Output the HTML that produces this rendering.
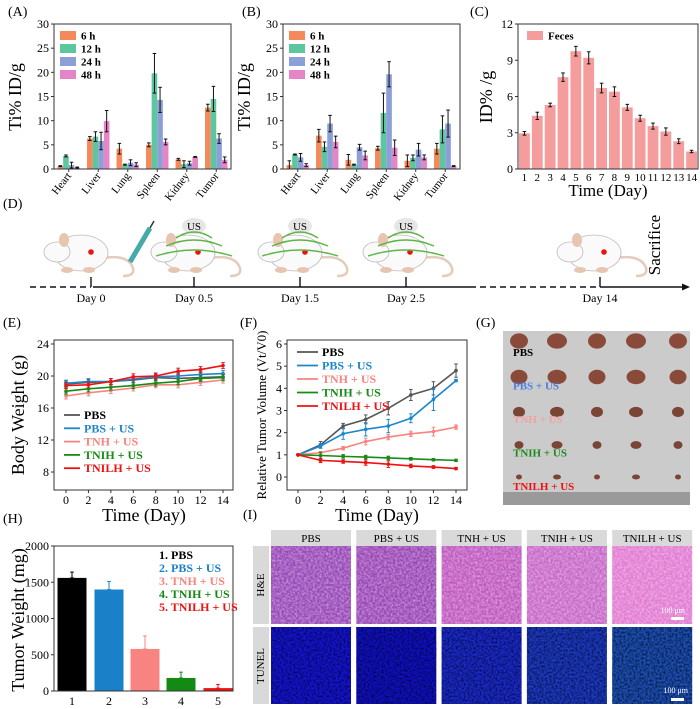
<!DOCTYPE html>
<html><head><meta charset="utf-8"><style>
body{margin:0;background:#fff}
svg{display:block;font-family:"Liberation Serif",serif}
</style></head><body>
<svg id="fig" width="700" height="709" viewBox="0 0 700 709" xmlns="http://www.w3.org/2000/svg">
<defs>
<filter id="he" x="0" y="0" width="1" height="1"><feTurbulence type="fractalNoise" baseFrequency="0.45" numOctaves="2" seed="3"/><feColorMatrix type="matrix" values="0 0 0 0 1  0 0 0 0 1  0 0 0 0 1  0 0 0 -1.6 1.1"/><feComposite in2="SourceGraphic" operator="in"/></filter>
<filter id="tn" x="0" y="0" width="1" height="1"><feTurbulence type="fractalNoise" baseFrequency="0.5" numOctaves="2" seed="7"/><feColorMatrix type="matrix" values="0 0 0 0 0  0 0 0 0 0  0 0 0 0 0  0 0 0 -1.8 1.2"/><feComposite in2="SourceGraphic" operator="in"/></filter>
</defs>
</svg>
<script>
// ---------- data ----------
const organs=["Heart","Liver","Lung","Spleen","Kidney","Tumor"];
const timeLabels=["6 h","12 h","24 h","48 h"];
const aVals=[[0.6,6.3,4.2,5.0,2.0,12.7],[2.7,6.7,0.9,19.8,1.0,14.5],[0.8,5.8,1.3,14.3,1.2,6.3],[0.3,9.9,0.9,5.6,2.5,1.9]];
const aErr=[[0.1,0.4,1.1,0.4,0.2,0.7],[0.2,1.0,0.1,4.1,0.7,2.6],[0.6,1.8,0.6,2.6,0.4,1.0],[0.1,2.2,0.4,0.6,0.1,0.6]];
const bVals=[[0.8,6.9,1.9,4.3,1.7,4.2],[3.0,4.6,0.9,11.6,2.3,8.2],[2.4,9.4,4.5,19.6,4.0,9.4],[0.8,5.6,2.8,4.4,2.4,0.6]];
const bErr=[[0.9,1.3,1.1,0.4,1.2,1.1],[0.1,1.0,0.1,4.1,0.6,2.8],[0.8,1.7,0.6,2.6,1.3,2.8],[0.3,1.2,0.9,1.6,0.5,0.1]];
const abTicks=[0,5,10,15,20,25,30];
const cDays=[1,2,3,4,5,6,7,8,9,10,11,12,13,14];
const cVals=[2.95,4.4,5.3,7.6,9.75,9.2,6.7,6.4,5.1,4.2,3.55,3.1,2.3,1.45];
const cErr=[0.15,0.3,0.15,0.35,0.4,0.5,0.4,0.4,0.25,0.25,0.25,0.3,0.2,0.1];
const cTicks=[0,3,6,9,12];
const groups=["PBS","PBS + US","TNH + US","TNIH + US","TNILH + US"];
const days=[0,2,4,6,8,10,12,14];
const eVals=[[19.0,19.2,19.3,19.5,19.8,19.7,19.8,19.9],[19.1,19.3,19.3,19.6,19.9,20.0,20.2,20.3],[17.5,17.9,18.2,18.5,18.9,18.9,19.2,19.5],[18.1,18.4,18.6,18.8,19.1,19.3,19.7,19.8],[18.8,18.9,19.3,19.9,20.0,20.6,20.8,21.3]];
const eTicks=[8,12,16,20,24];
const fVals=[[1,1.45,2.3,2.6,3.1,3.7,4.0,4.8],[1,1.4,1.95,2.15,2.3,2.65,3.5,4.35],[1,1.1,1.3,1.6,1.8,1.95,2.05,2.25],[1,0.97,0.93,0.9,0.86,0.82,0.78,0.75],[1,0.75,0.7,0.65,0.58,0.5,0.45,0.38]];
const fErr=[[0,0.15,0.12,0.2,0.3,0.25,0.3,0.3],[0,0.1,0.25,0.3,0.3,0.2,0.5,0.05],[0,0.05,0.08,0.15,0.12,0.12,0.2,0.1],[0,0.15,0.08,0.08,0.08,0.06,0.05,0.05],[0,0.1,0.08,0.12,0.15,0.08,0.06,0.05]];
const fTicks=[0,1,2,3,4,5,6];
const hLabels=["1","2","3","4","5"];
const hVals=[1560,1400,580,180,40];
const hErr=[80,110,180,80,50];
const hTicks=[0,500,1000,1500,2000];

const orgColors=["#f5895c","#5cc79e","#8c9fd6","#e585c6"];
const grpColors=["#555555","#1b86cf","#f7847f","#168c16","#f01010"];
const hColors=["#000000","#1a80c8","#f78480","#138a13","#ee1111"];

const svg=document.getElementById('fig');
const NS="http://www.w3.org/2000/svg";
function mk(tag,attrs,name,parent){
  const el=document.createElementNS(NS,tag);
  for(const k in attrs) el.setAttribute(k,attrs[k]);
  
  
  (parent||svg).appendChild(el);return el;
}
function txt(x,y,s,name,o){
  o=o||{};
  const t=mk('text',{x:x,y:y,'font-size':o.fs||12,'text-anchor':o.a||'middle',fill:o.fill||'#000','font-weight':o.fw||'normal'},name);
  if(o.rot!==undefined) t.setAttribute('transform','rotate('+o.rot+' '+x+' '+y+')');
  t.textContent=s;return t;
}
function lin(d0,d1,r0,r1){return v=>r0+(v-d0)/(d1-d0)*(r1-r0);}
function frame(x0,y0,x1,y1,name){mk('rect',{x:x0,y:y0,width:x1-x0,height:y1-y0,fill:'none',stroke:'#333','stroke-width':1},name);}
function yAxis(ticks,y,x0,name,fs){
  ticks.forEach(v=>{mk('line',{x1:x0,x2:x0-3,y1:y(v),y2:y(v),stroke:'#333'},name+'-tick');txt(x0-5,y(v)+4,String(v),name+'-label',{a:'end',fs:fs||12});});
}
function errBar(x,y1,y2,name,col){
  mk('line',{x1:x,x2:x,y1:y1,y2:y2,stroke:col||'#111','stroke-width':1},name);
  mk('line',{x1:x-1.8,x2:x+1.8,y1:y1,y2:y1,stroke:col||'#111','stroke-width':1},name);
  mk('line',{x1:x-1.8,x2:x+1.8,y1:y2,y2:y2,stroke:col||'#111','stroke-width':1},name);
}

// panel labels
[["(A)",8,16],["(B)",242,16],["(C)",470,16],["(D)",3,208],["(E)",3,327],["(F)",240,327],["(G)",476,327],["(H)",3,523],["(I)",243,519]].forEach(p=>txt(p[1],p[2],p[0],'panel-label',{a:'start',fs:14}));

// ---------- A & B ----------
function organChart(vals,errs,x0,x1,key){
  const y=lin(0,30,169,24);
  const gw=(x1-x0)/organs.length, bw=gw*0.19;
  organs.forEach((o,i)=>{
    const cx=x0+gw*(i+0.5);
    vals.forEach((ser,s)=>{
      const bx=cx+(s-2)*bw;
      mk('rect',{x:bx,y:y(ser[i]),width:bw,height:y(0)-y(ser[i]),fill:orgColors[s]},key+'-bar');
      errBar(bx+bw/2,y(ser[i]+errs[s][i]),y(Math.max(0,ser[i]-errs[s][i])),key+'-error-bar');
    });
    mk('line',{x1:cx,x2:cx,y1:169,y2:172,stroke:'#333'},key+'-x-tick');
    txt(cx+3,176,o,key+'-x-label',{a:'end',fs:11,rot:-52});
  });
  frame(x0,24,x1,169,key+'-plot-frame');
  yAxis(abTicks,y,x0,key+'-y',12);
  txt(x0-33,97,'Ti% ID/g',key+'-y-axis-title',{fs:18,rot:-90});
  timeLabels.forEach((l,s)=>{
    mk('rect',{x:x0+6,y:31+s*13,width:16,height:9,fill:orgColors[s]},key+'-legend-swatch');
    txt(x0+27,39.5+s*13,l,key+'-legend-label',{a:'start',fs:11,fw:'bold'});
  });
}
organChart(aVals,aErr,54,231,'chart-a');
organChart(bVals,bErr,283,460,'chart-b');

// ---------- C ----------
(function(){
  const x0=518,x1=698;const y=lin(0,12,169,24);
  const sp=(x1-x0)/cDays.length;
  cDays.forEach((d,i)=>{
    const cx=x0+sp*(i+0.5);
    mk('rect',{x:cx-sp*0.42,y:y(cVals[i]),width:sp*0.84,height:y(0)-y(cVals[i]),fill:'#f59c9c'},'feces-bar');
    errBar(cx,y(cVals[i]+cErr[i]),y(cVals[i]-cErr[i]),'feces-error-bar');
    txt(cx,181,String(d),'chart-c-x-label',{fs:11});
  });
  frame(x0,24,x1,169,'chart-c-plot-frame');
  yAxis(cTicks,y,x0,'chart-c-y',12);
  txt(492,97,'ID% /g','chart-c-y-axis-title',{fs:18,rot:-90});
  txt(608,196,'Time (Day)','chart-c-x-axis-title',{fs:17});
  mk('rect',{x:527,y:31,width:16,height:9,fill:'#f59c9c'},'chart-c-legend-swatch');
  txt(548,39.5,'Feces','chart-c-legend-label',{a:'start',fs:11,fw:'bold'});
})();

// ---------- D timeline ----------
(function(){
  const ty=287, dy=-10;
  mk('line',{x1:30,x2:91,y1:ty,y2:ty,stroke:'#111','stroke-width':1.6,'stroke-dasharray':'6 4'},'timeline-dashed-start');
  mk('line',{x1:93,x2:470,y1:ty,y2:ty,stroke:'#111','stroke-width':1.6},'timeline-solid');
  mk('line',{x1:470,x2:598,y1:ty,y2:ty,stroke:'#111','stroke-width':1.6,'stroke-dasharray':'6 4'},'timeline-dashed-mid');
  mk('line',{x1:600,x2:684,y1:ty,y2:ty,stroke:'#111','stroke-width':1.6},'timeline-end');
  mk('polygon',{points:'690,287 682,283.5 682,290.5',fill:'#111'},'timeline-arrow');
  [[91,'Day 0'],[194,'Day 0.5'],[300,'Day 1.5'],[406,'Day 2.5'],[600,'Day 14']].forEach(t=>{
    mk('line',{x1:t[0],x2:t[0],y1:ty,y2:ty-10,stroke:'#111','stroke-width':1.4},'timeline-tick');
    txt(t[0],302,t[1],'timeline-label',{fs:12});
  });
  txt(660,245,'Sacrifice','sacrifice-label',{fs:17,rot:-90});
  function mouse(cx,name){
    const g=mk('g',{transform:'translate(0,'+dy+')'},name);
    mk('path',{d:`M${cx+22},${268} q25,-4 30,10 q2,8 -10,8`,fill:'none',stroke:'#e6cbbb','stroke-width':2.5},'mouse-tail',g);
    mk('ellipse',{cx:cx,cy:263,rx:27,ry:18,fill:'#fafafa',stroke:'#bbb','stroke-width':0.8},'mouse-body',g);
    mk('ellipse',{cx:cx-24,cy:262,rx:13,ry:10,fill:'#fafafa',stroke:'#bbb','stroke-width':0.8},'mouse-head',g);
    mk('ellipse',{cx:cx-17,cy:250,rx:5,ry:7,fill:'#e8c5b0'},'mouse-ear',g);
    mk('ellipse',{cx:cx-14,cy:280,rx:6,ry:3,fill:'#e8c5b0'},'mouse-foot',g);
    mk('ellipse',{cx:cx+8,cy:280,rx:6,ry:3,fill:'#e8c5b0'},'mouse-foot',g);
    mk('circle',{cx:cx+10,cy:262,r:2.8,fill:'#f01010'},'tumor-dot',g);
  }
  [81,188,295,400,594].forEach(x=>mouse(x,'mouse-illustration'));
  mk('line',{x1:130,y1:262,x2:150,y2:228,stroke:'#4aa',"stroke-width":5},'syringe');
  mk('line',{x1:150,y1:228,x2:154,y2:221,stroke:'#333',"stroke-width":1.5},'syringe-plunger');
  [194,300,406].forEach(x=>{
    mk('ellipse',{cx:x,cy:226,rx:12,ry:8,fill:'#e6e6e6'},'us-badge');
    txt(x,230,'US','us-label',{fs:11});
    [[18,238],[28,246],[38,256]].forEach(a=>mk('path',{d:`M${x-a[0]},${a[1]} Q${x},${a[1]-12} ${x+a[0]},${a[1]}`,fill:'none',stroke:'#5cb545','stroke-width':1.4},'ultrasound-wave'));
  });
})();

// ---------- E ----------
(function(){
  const x0=54,x1=233,y=lin(8,24,472,344),x=lin(0,14,66,223);
  eVals.forEach((ser,s)=>{
    mk('polyline',{points:ser.map((v,i)=>x(days[i])+','+y(v)).join(' '),fill:'none',stroke:grpColors[s],'stroke-width':1.6},'body-weight-line');
    ser.forEach((v,i)=>{mk('circle',{cx:x(days[i]),cy:y(v),r:1.8,fill:grpColors[s]},'body-weight-point');errBar(x(days[i]),y(v)-3,y(v)+3,'body-weight-error',grpColors[s]);});
  });
  frame(x0,340,x1,490,'chart-e-plot-frame');
  yAxis(eTicks,y,x0,'chart-e-y',12);
  days.forEach(d=>{mk('line',{x1:x(d),x2:x(d),y1:490,y2:493,stroke:'#333'},'chart-e-x-tick');txt(x(d),504,String(d),'chart-e-x-label',{fs:12});});
  txt(24,415,'Body Weight (g)','chart-e-y-axis-title',{fs:18,rot:-90});
  txt(144,521,'Time (Day)','chart-e-x-axis-title',{fs:18});
  groups.forEach((g,s)=>{
    mk('line',{x1:64,x2:80,y1:415+s*13.3,y2:415+s*13.3,stroke:grpColors[s],'stroke-width':1.8},'chart-e-legend-line');
    txt(84,419+s*13.3,g,'chart-e-legend-label',{a:'start',fs:12,fw:'bold',fill:s==0?'#000':grpColors[s]});
  });
})();

// ---------- F ----------
(function(){
  const x0=287,x1=467,y=lin(0,6,477,344),x=lin(0,14,298,456);
  fVals.forEach((ser,s)=>{
    mk('polyline',{points:ser.map((v,i)=>x(days[i])+','+y(v)).join(' '),fill:'none',stroke:grpColors[s],'stroke-width':1.6},'tumor-volume-line');
    ser.forEach((v,i)=>{mk('circle',{cx:x(days[i]),cy:y(v),r:1.8,fill:grpColors[s]},'tumor-volume-point');errBar(x(days[i]),y(v+fErr[s][i]),y(v-fErr[s][i]),'tumor-volume-error',grpColors[s]);});
  });
  frame(x0,340,x1,490,'chart-f-plot-frame');
  yAxis(fTicks,y,x0,'chart-f-y',12);
  days.forEach(d=>{mk('line',{x1:x(d),x2:x(d),y1:490,y2:493,stroke:'#333'},'chart-f-x-tick');txt(x(d),504,String(d),'chart-f-x-label',{fs:12});});
  txt(266,415,'Relative Tumor Volume (Vt/V0)','chart-f-y-axis-title',{fs:13,rot:-90});
  txt(377,521,'Time (Day)','chart-f-x-axis-title',{fs:18});
  groups.forEach((g,s)=>{
    mk('line',{x1:297,x2:318,y1:352+s*13.5,y2:352+s*13.5,stroke:grpColors[s],'stroke-width':1.8},'chart-f-legend-line');
    txt(322,356+s*13.5,g,'chart-f-legend-label',{a:'start',fs:12,fw:'bold',fill:s==0?'#000':grpColors[s]});
  });
})();

// ---------- G photo ----------
(function(){
  mk('rect',{x:503,y:331,width:187,height:174,fill:'#cbcbcb'},'tumor-photo');
  mk('rect',{x:503,y:492,width:187,height:13,fill:'#9a9a9a'},'ruler');
  const cols=[519,557,597,636,678],rows=[341,377,412,445,477],sz=[9,8.5,6,4.5,3];
  rows.forEach((ry,r)=>cols.forEach((cx,c)=>mk('ellipse',{cx:cx,cy:ry,rx:sz[r]+(c%2),ry:sz[r]*0.85,fill:r<2?'#8a4a3a':'#7a4535'},'excised-tumor')));
  groups.forEach((g,s)=>txt(513,356+s*33.5,g,'photo-group-label',{a:'start',fs:11,fw:'bold',fill:s==0?'#000':['#000','#4a7fe0','#f5a0a0','#1a8a1a','#f01010'][s]}));
})();

// ---------- H ----------
(function(){
  const x0=54,x1=233,y=lin(0,2000,691,546);
  const xs=[72,109,145,181,218];
  hVals.forEach((v,i)=>{
    mk('rect',{x:xs[i]-14.5,y:y(v),width:29,height:y(0)-y(v),fill:hColors[i]},'tumor-weight-bar');
    errBar(xs[i],y(v+hErr[i]),y(v),'tumor-weight-error',hColors[i]);
    txt(xs[i],705,hLabels[i],'chart-h-x-label',{fs:12});
  });
  frame(x0,546,x1,691,'chart-h-plot-frame');
  yAxis(hTicks,y,x0,'chart-h-y',12);
  txt(24,620,'Tumor Weight (mg)','chart-h-y-axis-title',{fs:18,rot:-90});
  groups.forEach((g,s)=>txt(159,559+s*13,(s+1)+'. '+g,'chart-h-legend-label',{a:'start',fs:12,fw:'bold',fill:hColors[s]}));
})();

// ---------- I histology ----------
(function(){
  const heC=['#9848b8','#9a46b6','#c058c0','#c868c8','#e27ad2'];
  const tnC=['#1414d8','#1010c8','#1a2ad0','#1c3ac8','#1c50b8'];
  mk('rect',{x:253,y:546,width:16,height:78,fill:'#d9d9d9'},'row-header-he');
  mk('rect',{x:253,y:627,width:16,height:77,fill:'#d9d9d9'},'row-header-tunel');
  txt(264,585,'H&E','row-label-he',{fs:11,rot:-90});
  txt(264,666,'TUNEL','row-label-tunel',{fs:11,rot:-90});
  groups.forEach((g,c)=>{
    const x=271+c*85.3;
    mk('rect',{x:x,y:530,width:80,height:16,fill:'#d9d9d9'},'column-header');
    txt(x+40,542,g,'column-label',{fs:11});
    mk('rect',{x:x,y:546,width:80,height:78,fill:heC[c]},'he-image');
    mk('rect',{x:x,y:546,width:80,height:78,fill:'#fff',filter:'url(#he)',opacity:0.5},'he-texture');
    mk('rect',{x:x,y:627,width:80,height:77,fill:tnC[c]},'tunel-image');
    mk('rect',{x:x,y:627,width:80,height:77,fill:'#000',filter:'url(#tn)',opacity:0.75},'tunel-texture');
  });
  mk('rect',{x:671,y:617,width:13,height:3,fill:'#fff'},'scale-bar-he');
  mk('rect',{x:671,y:698,width:13,height:3,fill:'#fff'},'scale-bar-tunel');
  txt(685,613,'100 μm','scale-label',{fs:8,a:'end',fill:'#fff'});
  txt(688,693,'100 μm','scale-label',{fs:8,a:'end',fill:'#fff'});
})();
</script>
</body></html>
